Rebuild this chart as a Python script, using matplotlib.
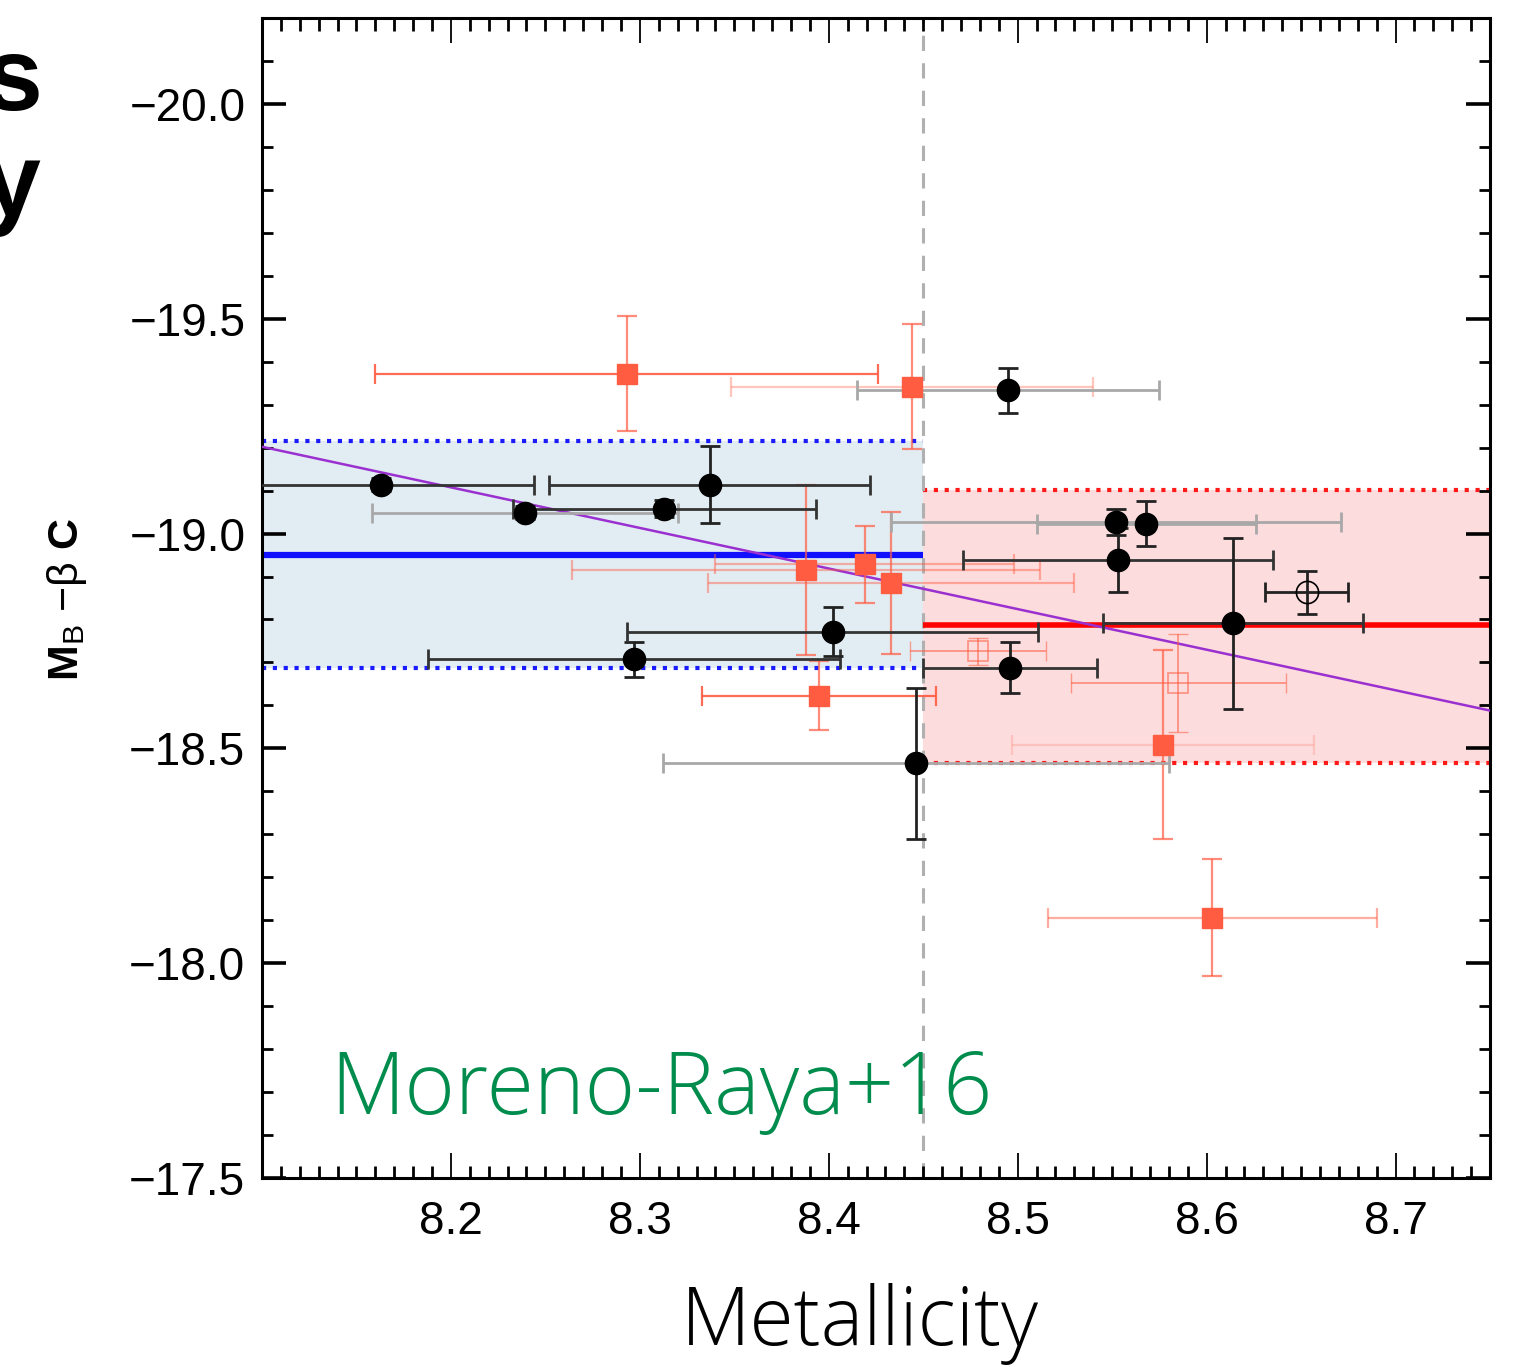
import matplotlib
matplotlib.use("Agg")
import matplotlib.pyplot as plt

plt.rcParams['font.family'] = ['Liberation Sans', 'DejaVu Sans']
plt.rcParams['mathtext.fontset'] = 'custom'
plt.rcParams['mathtext.rm'] = 'Liberation Sans'
plt.rcParams['mathtext.it'] = 'Liberation Sans'

# black circles (filled)
bx = [8.163, 8.239, 8.313, 8.337, 8.297, 8.402, 8.446, 8.495, 8.552, 8.568, 8.553, 8.614, 8.496]
by = [-19.114, -19.049, -19.058, -19.114, -18.707, -18.772, -18.465, -19.333, -19.026, -19.023, -18.938, -18.791, -18.688]
bxe = [0.081, 0.081, 0.080, 0.085, 0.109, 0.109, 0.134, 0.080, 0.119, 0.058, 0.082, 0.069, 0.046]
bye = [0.015, 0.015, 0.020, 0.090, 0.040, 0.056, 0.176, 0.053, 0.030, 0.052, 0.075, 0.199, 0.060]
b_faint = [False, True, False, False, False, False, True, True, True, True, False, False, False]

# open black circle
ocx, ocy, ocxe, ocye = [8.653], [-18.863], [0.022], [0.050]

# red squares (filled)
rx = [8.293, 8.444, 8.388, 8.419, 8.433, 8.395, 8.577, 8.603]
ry = [-19.372, -19.342, -18.916, -18.928, -18.885, -18.623, -18.508, -18.106]
rxe = [0.133, 0.096, 0.124, 0.079, 0.097, 0.062, 0.080, 0.087]
rye = [0.134, 0.145, 0.198, 0.090, 0.166, 0.081, 0.220, 0.136]
r_xalpha = [0.9, 0.35, 0.45, 0.45, 0.45, 0.9, 0.2, 0.5]

# open red squares
ox = [8.479, 8.585]
oy = [-18.726, -18.653]
oxe = [0.036, 0.057]
oye = [0.031, 0.114]

# low / high metallicity bands
split = 8.45
low_mean, low_lo, low_hi = -18.950, -19.215, -18.686
high_mean, high_lo, high_hi = -18.786, -19.102, -18.467
fit_x = [8.1, 8.75]
fit_y = [-19.202, -18.588]

fig = plt.figure(figsize=(15.27, 13.67), dpi=100)
ax = fig.add_axes([262/1527, 1-1178/1367, 1228/1527, 1160/1367])
ax.set_xlim(8.1, 8.75)
ax.set_ylim(-17.5, -20.2)

ax.fill_between([8.1, split], low_lo, low_hi, color='#e2edf3', lw=0, zorder=0)
ax.fill_between([split, 8.75], high_lo, high_hi, color='#fcdcdc', lw=0, zorder=0)
ax.hlines([low_lo, low_hi], 8.1, split, colors='#1a1aff', linestyles=(0, (1, 1.6)), lw=3, zorder=1)
ax.hlines([high_lo, high_hi], split, 8.75, colors='#ff1a1a', linestyles=(0, (1, 1.6)), lw=3, zorder=1)
ax.hlines(low_mean, 8.1, split, colors='#1010ff', lw=4.5, zorder=2)
ax.hlines(high_mean, split, 8.75, colors='#ff0000', lw=4, zorder=2)
ax.axvline(split, color='#b0b0b0', ls=(0, (5, 4)), lw=2.2, zorder=1)
ax.plot(fit_x, fit_y, color='#9b30d0', lw=1.8, zorder=3)

red = '#ff5c42'
for i in range(len(rx)):
    ax.errorbar(rx[i], ry[i], xerr=rxe[i], fmt='none', ecolor=red, alpha=r_xalpha[i],
                elinewidth=1.6, capsize=7, capthick=1.6, zorder=4)
    ax.errorbar(rx[i], ry[i], yerr=rye[i], fmt='none', ecolor=red, alpha=0.7,
                elinewidth=1.6, capsize=7, capthick=1.6, zorder=4)
ax.plot(rx, ry, 's', color=red, ms=15, mec=red, zorder=6)

ax.errorbar(ox, oy, xerr=oxe, yerr=oye, fmt='none', ecolor=red, elinewidth=1.4,
            capsize=7, alpha=0.55, zorder=4)
ax.plot(ox, oy, 's', mfc='none', mec=red, ms=15, mew=1.2, alpha=0.6, zorder=4)

for i in range(len(bx)):
    col = '#a8a8a8' if b_faint[i] else '#333333'
    ax.errorbar(bx[i], by[i], xerr=bxe[i], fmt='none', ecolor=col, elinewidth=2,
                capsize=7, capthick=2, zorder=5)
    ax.errorbar(bx[i], by[i], yerr=bye[i], fmt='none', ecolor='#222222', elinewidth=2,
                capsize=7, capthick=2, zorder=5)
ax.plot(bx, by, 'o', color='black', ms=16, zorder=7)

ax.errorbar(ocx, ocy, xerr=ocxe, yerr=ocye, fmt='none', ecolor='#222222', elinewidth=2,
            capsize=7, capthick=2, zorder=5)
ax.plot(ocx, ocy, 'o', mfc='none', mec='black', ms=16, mew=1.2, ls='none', zorder=6)

ax.set_xticks([8.2, 8.3, 8.4, 8.5, 8.6, 8.7])
ax.set_xticks([8.1 + 0.01 * k for k in range(66)], minor=True)
ax.set_yticks([-20.0, -19.5, -19.0, -18.5, -18.0, -17.5])
ax.set_yticks([-20.2 + 0.1 * k for k in range(28)], minor=True)
ax.set_yticklabels(['\u221220.0', '\u221219.5', '\u221219.0', '\u221218.5', '\u221218.0', '\u221217.5'])
ax.tick_params(axis='both', which='both', direction='in', top=True, right=True, labelsize=33)
ax.tick_params(axis='x', which='major', length=18, width=1.3, pad=16)
ax.tick_params(axis='x', which='minor', length=9, width=2)
ax.tick_params(axis='y', which='major', length=17, width=2.6, pad=12)
ax.tick_params(axis='y', which='minor', length=8, width=2)
for s in ax.spines.values():
    s.set_linewidth(2.2)

ax.text(8.136, -17.649, 'Moreno-Raya+16', color='#008c4c', fontsize=62, va='baseline',
        family=['Open Sans', 'DejaVu Sans'], fontweight='light', zorder=8)

fig.text(860/1527, 1-1345/1367, 'Metallicity', fontsize=58, ha='center', va='baseline',
         family=['Open Sans', 'DejaVu Sans'], fontweight='light')
fig.text(67/1527, 1-600/1367, r'M$_{\rm B}$ $-\beta$ C', fontsize=31, rotation=90,
         ha='center', va='center', fontweight='bold')

# cut-off slide title letters
fig.text(42/1527, 1-110/1367, 's', fontsize=75, fontweight='bold', ha='right', va='baseline')
fig.text(40/1527, 1-215/1367, 'y', fontsize=75, fontweight='bold', ha='right', va='baseline')

fig.savefig('out.png', dpi=100)
